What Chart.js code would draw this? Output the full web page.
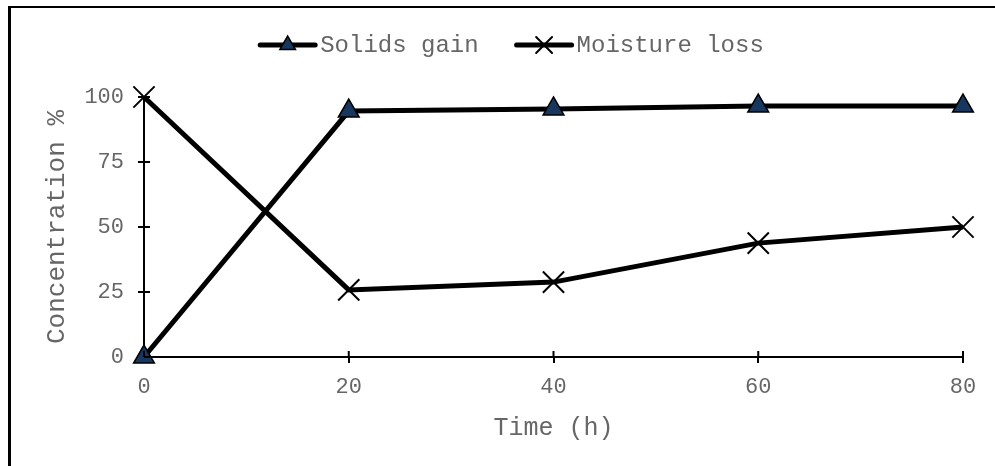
<!DOCTYPE html>
<html>
<head>
<meta charset="utf-8">
<script src="https://cdn.jsdelivr.net/npm/chart.js@4/dist/chart.umd.min.js"></script>
<style>
  html, body { margin: 0; padding: 0; background: #fff; overflow: hidden; }
  #wrap { position: relative; width: 995px; height: 466px; }
  #frame { position: absolute; left: 8px; top: 6px; width: 1000px; height: 500px;
           border-top: 2px solid #000; border-left: 3px solid #000; pointer-events: none; }
  canvas { position: absolute; left: 0; top: 0; }
</style>
</head>
<body>
<div id="wrap">
  <canvas id="chart" width="995" height="466"></canvas>
  <div id="frame"></div>
</div>
<script>
(function(){
  // ---- Data
  const timeHours = [0, 20, 40, 60, 80];
  const solidsGain = [0, 94.6, 95.4, 96.5, 96.5];
  const moistureLoss = [100, 25.8, 28.8, 43.8, 50];
  const yTicks = [0, 25, 50, 75, 100];
  const xTicks = [0, 20, 40, 60, 80];

  const FONT = "'Liberation Mono', 'Courier New', monospace";
  const GREY = '#666666';
  const NAVY = '#17375E';

  const toPts = (xs, ys) => xs.map((x, i) => ({ x, y: ys[i] }));

  // ticks that cross the axis line (inner half), Excel style
  const innerTicks = {
    id: 'innerTicks',
    afterDatasetsDraw(chart) {
      const { ctx, chartArea: a, scales: { x, y } } = chart;
      ctx.save();
      ctx.strokeStyle = '#000';
      ctx.lineWidth = 2;
      ctx.beginPath();
      xTicks.forEach(v => { const px = x.getPixelForValue(v); ctx.moveTo(px, a.bottom); ctx.lineTo(px, a.bottom - 6); });
      yTicks.forEach(v => { const py = y.getPixelForValue(v); ctx.moveTo(a.left, py); ctx.lineTo(a.left + 6, py); });
      ctx.stroke();
      ctx.restore();
    }
  };

  // legend: line sample with marker, then label
  const lineLegend = {
    id: 'lineLegend',
    afterDraw(chart) {
      const ctx = chart.ctx;
      const sample = 55, gap = 5, itemGap = 38;
      ctx.save();
      ctx.font = '24px ' + FONT;
      ctx.textBaseline = 'middle';
      const items = chart.data.datasets.map(ds => ({ ds, w: sample + gap + ctx.measureText(ds.label).width }));
      const total = items.reduce((s, it) => s + it.w, 0) + itemGap * (items.length - 1);
      let x = 512 - total / 2;
      const y = 45;
      items.forEach(({ ds, w }) => {
        ctx.strokeStyle = ds.borderColor;
        ctx.lineWidth = ds.borderWidth;
        ctx.lineCap = 'round';
        ctx.beginPath(); ctx.moveTo(x, y); ctx.lineTo(x + sample, y); ctx.stroke();
        ctx.fillStyle = ds.pointBackgroundColor; ctx.strokeStyle = ds.pointBorderColor;
        ctx.lineWidth = ds.pointBorderWidth;
        Chart.helpers.drawPoint(ctx, { pointStyle: ds.pointStyle, radius: ds.pointRadius * 0.75, borderWidth: ds.pointBorderWidth }, x + sample / 2, y);
        ctx.fillStyle = GREY;
        ctx.fillText(ds.label, x + sample + gap, y + 1);
        x += w + itemGap;
      });
      ctx.restore();
    }
  };

  new Chart(document.getElementById('chart'), {
    type: 'line',
    data: {
      datasets: [
        {
          label: 'Solids gain',
          data: toPts(timeHours, solidsGain),
          borderColor: '#000', borderWidth: 5,
          pointStyle: 'triangle', pointRadius: 12,
          pointBackgroundColor: NAVY, pointBorderColor: '#000', pointBorderWidth: 1.5,
          tension: 0
        },
        {
          label: 'Moisture loss',
          data: toPts(timeHours, moistureLoss),
          borderColor: '#000', borderWidth: 5,
          pointStyle: 'crossRot', pointRadius: 15,
          pointBackgroundColor: '#000', pointBorderColor: '#000', pointBorderWidth: 2,
          tension: 0
        }
      ]
    },
    options: {
      responsive: false,
      animation: false,
      clip: false,
      layout: { padding: { left: 0, top: 97, right: 32, bottom: 0 } },
      plugins: { legend: { display: false }, tooltip: { enabled: false } },
      scales: {
        x: {
          type: 'linear', min: 0, max: 80,
          afterBuildTicks: s => { s.ticks = xTicks.map(v => ({ value: v })); },
          afterFit: s => { s.height = 466 - 357; },
          border: { color: '#000', width: 2 },
          grid: { drawOnChartArea: false, drawTicks: true, tickLength: 6, color: '#000', lineWidth: 2 },
          ticks: { color: GREY, font: { family: FONT, size: 22 }, padding: 11, maxRotation: 0 },
          title: { display: true, text: 'Time (h)', color: GREY, font: { family: FONT, size: 25 }, padding: { top: 6, bottom: 23 } }
        },
        y: {
          min: 0, max: 100,
          afterBuildTicks: s => { s.ticks = yTicks.map(v => ({ value: v })); },
          afterFit: s => { s.width = 144; },
          border: { color: '#000', width: 2 },
          grid: { drawOnChartArea: false, drawTicks: true, tickLength: 6, color: '#000', lineWidth: 2 },
          ticks: { color: GREY, font: { family: FONT, size: 22 }, padding: 14 },
          title: { display: true, text: 'Concentration %', color: GREY, font: { family: FONT, size: 26 }, padding: { top: 42 } }
        }
      }
    },
    plugins: [innerTicks, lineLegend]
  });
})();
</script>
</body>
</html>
